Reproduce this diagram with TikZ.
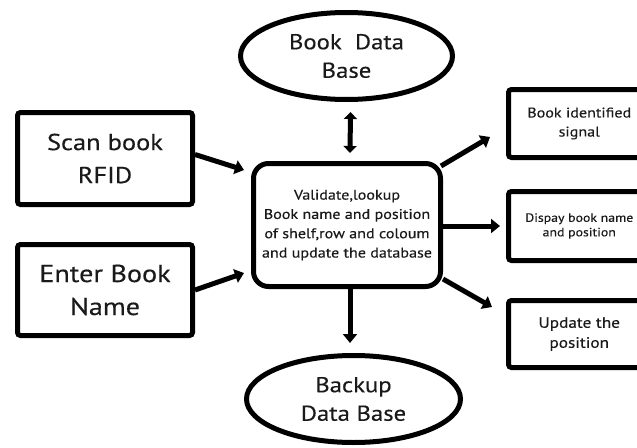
\documentclass[tikz,border=0pt]{standalone}
\usepackage{fontspec}
\setmainfont{PT Sans}[FakeStretch=1.15, FakeBold=0.3]
\usetikzlibrary{arrows.meta,calc,shapes.geometric}
\definecolor{ink}{HTML}{1A1A1A}
\begin{document}
\begin{tikzpicture}[x=1pt,y=-1pt,
  box/.style={draw, line width=5pt, rectangle, rounded corners=3pt, align=center, inner sep=0pt, text=ink},
  rbox/.style={box, rounded corners=15pt},
  oval/.style={draw, line width=5pt, ellipse, align=center, inner sep=0pt, text=ink},
  arr/.style={line width=5pt, -{Triangle[length=9pt,width=14pt]}},
  dbl/.style={line width=5pt, {Triangle[length=7pt,width=13pt]}-{Triangle[length=7pt,width=13pt]}}]
\useasboundingbox (0,0) rectangle (637,447);
\clip (0,0) rectangle (637,447);
\node[oval, minimum width=212pt, minimum height=87pt, font=\fontsize{21.5}{28.5}\selectfont] (bookdb) at (346.5,56) {Book\ \ Data\\Base};
\node[oval, minimum width=214pt, minimum height=87pt, font=\fontsize{21.5}{28.5}\selectfont] (backup) at (353.5,399) {Backup\\Data Base};
\node[box, minimum width=175pt, minimum height=92pt, font=\fontsize{23}{33}\selectfont] (scan) at (105,158.5) {Scan book\\RFID};
\node[box, minimum width=175pt, minimum height=91pt, font=\fontsize{24.5}{33}\selectfont] (enter) at (105,290) {Enter Book\\Name};
\node[rbox, minimum width=187pt, minimum height=123pt, font=\fontsize{14}{19.3}\selectfont] (central) at (347,225) {Validate,lookup\\Book name and position\\of shelf,row and coloum\\and update the database};
\node[box, minimum width=141.5pt, minimum height=68pt, font=\fontsize{14}{19}\selectfont] (sig) at (579.25,123.5) {Book identified\\signal};
\node[box, minimum width=141.5pt, minimum height=69pt, font=\fontsize{12}{14.5}\selectfont] (disp) at (579.25,226) {Dispay book name\\and position};
\node[box, minimum width=141.5pt, minimum height=67pt, font=\fontsize{15}{20}\selectfont] (upd) at (579.25,334) {Update the\\position};
\draw[arr] ($(scan.east)+(0,-4)$) -- ($(central.west)+(-7,-55)$);
\draw[arr] (enter.east) -- ($(central.west)+(-7,48)$);
\draw[dbl] ($(bookdb.south)+(4,10)$) -- ($(central.north)+(3,-8)$);
\draw[arr] ($(central.south)+(3,0)$) -- ($(backup.north)+(-3.5,-10)$);
\draw[arr] ($(central.north east)+(-2,5)$) -- ($(sig.west)+(-16,13.5)$);
\draw[arr] (central.east |- disp.west) -- ($(disp.west)+(-6,0)$);
\draw[arr] ($(central.south east)+(0,-10)$) -- ($(upd.west)+(-14,-27)$);
\end{tikzpicture}
\end{document}
